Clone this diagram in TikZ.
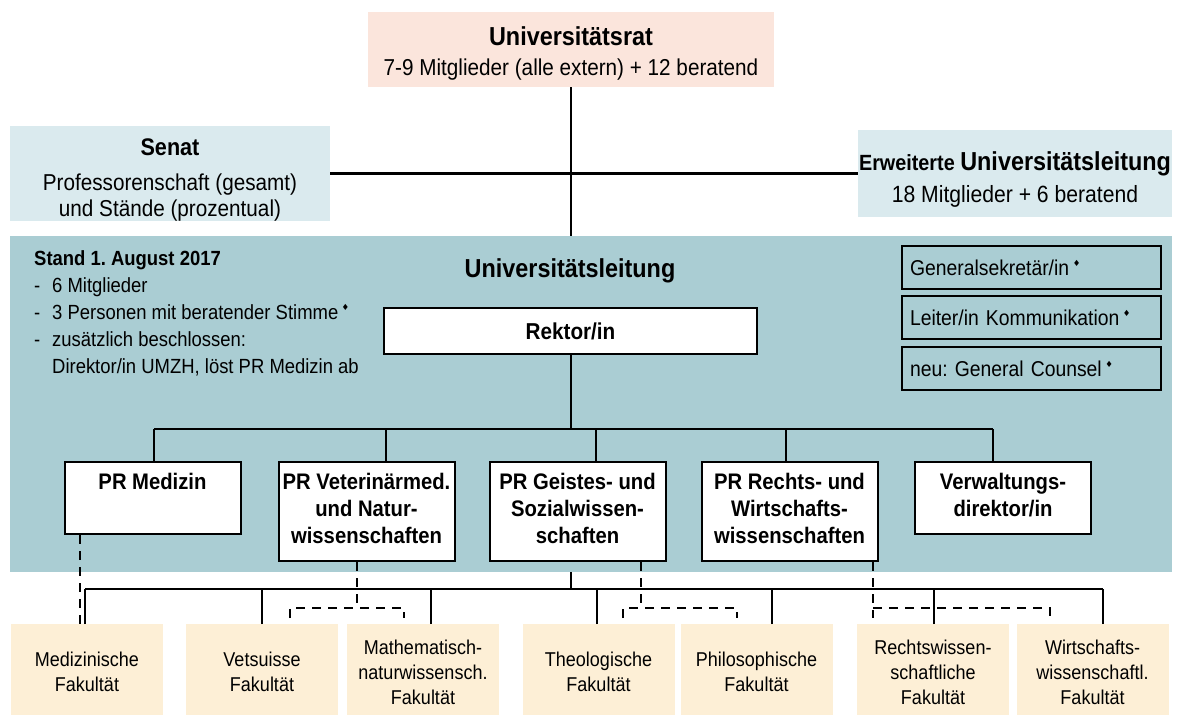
\documentclass[tikz,border=0pt]{standalone}
\usepackage{fontspec}
\setmainfont{Liberation Sans}[FakeStretch=0.9]
\newfontfamily\symfont{DejaVu Sans}
\usetikzlibrary{positioning}
\definecolor{ratpink}{RGB}{251,229,220}
\definecolor{senatblue}{RGB}{218,234,238}
\definecolor{ulblue}{RGB}{170,205,211}
\definecolor{faksand}{RGB}{253,239,214}
\newcommand{\fsz}[2]{\fontsize{#1}{#2}\selectfont}
\newcommand{\raute}{\,\raisebox{0.42em}{\symfont\fontsize{8.5}{8.5}\selectfont ♦}}
\frenchspacing

\begin{document}
\begin{tikzpicture}[x=1pt,y=-1pt,
  conn/.style={line width=2pt},
  dconn/.style={line width=2pt,dash pattern=on 9pt off 7pt},
  headbox/.style={fill=#1,minimum height=87pt,inner sep=0pt,align=center},
  infobox/.style={draw,line width=2pt,minimum width=259pt,minimum height=43pt,text width=243pt,
    inner xsep=8pt,inner ysep=0pt,anchor=north west,align=left,font=\fsz{21.5}{26}},
  prbox/.style={draw,line width=2pt,fill=white,minimum width=176pt,inner xsep=0pt,inner ysep=9pt,
    anchor=north,align=center,font=\fsz{22.5}{27}\bfseries},
  fakbox/.style={fill=faksand,minimum width=152pt,minimum height=96pt,inner sep=0pt,
    anchor=north,align=center,font=\fsz{20}{25}}]
\useasboundingbox (0,0) rectangle (1181,715);
\coordinate (busU) at (0,429);
\coordinate (busL) at (0,589);
\coordinate (dlev) at (0,608);

\node[headbox=ratpink,minimum width=406pt,minimum height=75pt,font=\fsz{23}{30}] (rat) at (571,49.5)
  {\rule{0pt}{26pt}{\bfseries\fsz{26}{30}Universitätsrat}\\7-9 Mitglieder (alle extern) + 12 beratend};
\node[headbox=senatblue,minimum width=320pt,font=\fsz{23}{26}] (senat) at (170,173.5)
  {\rule{0pt}{29pt}{\bfseries\fsz{24}{26}Senat}\\[9pt]Professorenschaft (gesamt)\\und Stände (prozentual)};
\node[headbox=senatblue,minimum width=314pt,font=\fsz{23.5}{32}] (erw) at (1015,173.5)
  {\rule{0pt}{30pt}{\bfseries\fsz{22}{32}Erweiterte \fsz{26}{32}Universitätsleitung}\\18 Mitglieder + 6 beratend};

\draw[conn] (rat.south) -- (rat.south |- busL);
\draw[line width=2.5pt] (senat.east) -- (erw.west);

\node[fill=ulblue,minimum width=1162pt,minimum height=336pt,inner sep=0pt,anchor=north west] (ul) at (10,236) {};
\node[anchor=base,font=\fsz{26}{30}\bfseries] (ultitle) at (570,277) {Universitätsleitung};
\node[anchor=north west,inner sep=0pt,align=left,font=\fsz{20.5}{27}] (stand) at (34,250.5)
  {\textbf{Stand 1. August 2017}\\
   \makebox[18pt][l]{-}6 Mitglieder\\
   \makebox[18pt][l]{-}3 Personen mit beratender Stimme\raute\\
   \makebox[18pt][l]{-}zusätzlich beschlossen:\\
   \makebox[18pt][l]{}Direktor/in UMZH, löst PR Medizin ab};

\node[infobox] (gensek) at (901,245) {Generalsekretär/in\raute};
\node[infobox] (komm) at (901,295) {Leiter/in Kommunikation\raute};
\node[infobox] (counsel) at (901,346) {neu: General Counsel\raute};

\node[draw,line width=2pt,fill=white,minimum width=373pt,minimum height=46pt,font=\fsz{23}{27}\bfseries] (rektor) at (570.5,331) {Rektor/in};

\node[prbox] (prmed) at (152.5,461) {\strut PR Medizin\\\strut};
\node[prbox] (prvet) at (366.5,461) {\strut PR Veterinärmed.\\\strut und Natur-\\\strut wissenschaften};
\node[prbox] (prgeist) at (577.5,461) {\strut PR Geistes- und\\\strut Sozialwissen-\\\strut schaften};
\node[prbox] (prrecht) at (789.5,461) {\strut PR Rechts- und\\\strut Wirtschafts-\\\strut wissenschaften};
\node[prbox] (verw) at (1003,461) {\strut Verwaltungs-\\\strut direktor/in};

\draw[conn] (rektor.south) -- (rektor.south |- busU);
\foreach \p/\dx in {prmed/1.5,prvet/19.5,prgeist/18.5,prrecht/-3.5,verw/-10}{
  \coordinate (\p-u) at ([xshift=\dx pt]\p.north);
  \draw[conn] (\p-u) -- (\p-u |- busU);
}
\draw[conn] (prmed-u |- busU) -- (verw-u |- busU);

\node[fakbox] (med) at (87,624) {Medizinische\\Fakultät};
\node[fakbox] (vet) at (262,624) {Vetsuisse\\Fakultät};
\node[fakbox] (math) at (423,624) {Mathematisch-\\naturwissensch.\\Fakultät};
\node[fakbox] (theo) at (598.5,624) {Theologische\\Fakultät};
\node[fakbox] (phil) at (756.5,624) {Philosophische\\Fakultät};
\node[fakbox] (rechts) at (933,624) {Rechtswissen-\\schaftliche\\Fakultät};
\node[fakbox] (wirt) at (1092.5,624) {Wirtschafts-\\wissenschaftl.\\Fakultät};

\foreach \f/\dx in {med/-2,vet/0,math/8,theo/-1.5,phil/15.5,rechts/1,wirt/10.5}{
  \coordinate (\f-d) at ([xshift=\dx pt]\f.north);
  \draw[conn] (\f-d) -- (\f-d |- busL);
}
\draw[conn] (med-d |- busL) -- (wirt-d |- busL);

\coordinate (prmed-d) at ([xshift=-72.5pt]prmed.south);
\draw[dconn] (prmed-d) -- (prmed-d |- med.north);

\coordinate (prvet-d) at ([xshift=-9.5pt]prvet.south);
\coordinate (vet-t) at ([xshift=28pt,yshift=6pt]vet.north);
\coordinate (math-t) at ([xshift=-19pt,yshift=6pt]math.north);
\draw[dconn] (prvet-d) -- (prvet-d |- dlev);
\draw[dconn] (vet-t) -- (vet-t |- dlev) -- (math-t |- dlev) -- (math-t);

\coordinate (prgeist-d) at ([xshift=63.5pt]prgeist.south);
\coordinate (theo-t) at ([xshift=24.5pt,yshift=6pt]theo.north);
\coordinate (phil-t) at ([xshift=-19.5pt,yshift=6pt]phil.north);
\draw[dconn] (prgeist-d) -- (prgeist-d |- dlev);
\draw[dconn] (theo-t) -- (theo-t |- dlev) -- (phil-t |- dlev) -- (phil-t);

\coordinate (prrecht-d) at ([xshift=83.5pt]prrecht.south);
\coordinate (wirt-t) at ([xshift=-42.5pt,yshift=6pt]wirt.north);
\draw[dconn] (prrecht-d) -- (prrecht-d |- wirt-t);
\draw[dconn] (prrecht-d |- dlev) -- (wirt-t |- dlev) -- (wirt-t);
\end{tikzpicture}
\end{document}
